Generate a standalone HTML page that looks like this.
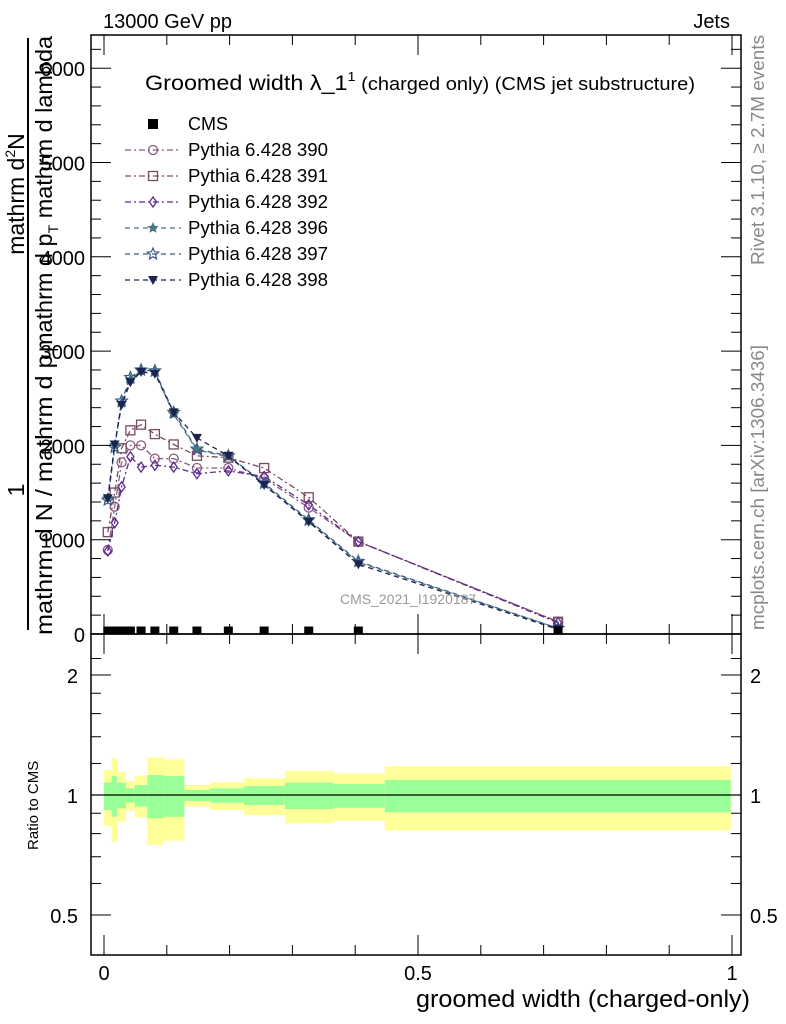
<!DOCTYPE html>
<html><head><meta charset="utf-8"><style>
html,body{margin:0;padding:0;background:#fff}
svg{display:block;font-family:"Liberation Sans",sans-serif}
</style></head><body>
<svg id="chart" width="786" height="1024" viewBox="0 0 786 1024" xmlns="http://www.w3.org/2000/svg">
<g id="bands"></g>
<g id="series"></g>
<g id="axes"></g>
<text x="103" y="28" font-size="20">13000 GeV pp</text>
<text x="730" y="28" font-size="20" text-anchor="end">Jets</text>
<text x="145" y="90" font-size="21" textLength="550" lengthAdjust="spacingAndGlyphs">Groomed width λ_1<tspan font-size="13" dy="-9">1</tspan><tspan font-size="18" dy="9"> (charged only) (CMS jet substructure)</tspan></text>
<text x="340" y="604" font-size="14" fill="#999">CMS_2021_I1920187</text>
<text transform="translate(764,265) rotate(-90)" font-size="18" fill="#888" textLength="230" lengthAdjust="spacingAndGlyphs">Rivet 3.1.10, ≥ 2.7M events</text>
<text transform="translate(764,630) rotate(-90)" font-size="18" fill="#888" textLength="285" lengthAdjust="spacingAndGlyphs">mcplots.cern.ch [arXiv:1306.3436]</text>
<g font-size="23" text-anchor="middle">
<text transform="translate(24,194) rotate(-90)">mathrm d<tspan font-size="14" dy="-9">2</tspan><tspan dy="9">N</tspan></text>
<text transform="translate(52,194) rotate(-90)" textLength="316" lengthAdjust="spacingAndGlyphs">mathrm d p<tspan font-size="14" dy="6">T</tspan><tspan dy="-6"> mathrm d lambda</tspan></text>
<line x1="28" y1="38" x2="28" y2="630" stroke="#000" stroke-width="2"/>
<text transform="translate(24,490) rotate(-90)">1</text>
<text transform="translate(52,490) rotate(-90)" textLength="290" lengthAdjust="spacingAndGlyphs">mathrm d N / mathrm d p<tspan font-size="14" dy="6">T</tspan></text>
</g>
<text transform="translate(38,850) rotate(-90)" font-size="15">Ratio to CMS</text>
<text x="750" y="1007" font-size="24" text-anchor="end" textLength="334" lengthAdjust="spacingAndGlyphs">groomed width (charged-only)</text>
<g id="legend"></g>
</svg>
<script>
const xs = [0.006,0.017,0.028,0.042,0.059,0.081,0.111,0.148,0.198,0.255,0.326,0.405,0.723];
const binEdges = [0,0.012,0.021,0.035,0.049,0.069,0.095,0.128,0.169,0.223,0.288,0.365,0.447,0.998];
const cms = [5,5,5,5,5,5,5,5,5,5,5,5,5];
const s390 = [890,1350,1820,2000,2000,1860,1860,1760,1760,1650,1340,980,130];
const s391 = [1080,1500,1970,2160,2220,2120,2010,1890,1870,1760,1450,980,130];
const s392 = [880,1180,1560,1880,1770,1790,1770,1700,1730,1670,1370,980,120];
const s396 = [1440,2000,2450,2700,2790,2780,2330,1950,1880,1590,1200,760,60];
const s397 = [1420,1980,2470,2720,2800,2790,2350,1960,1890,1600,1210,770,60];
const s398 = [1440,2010,2430,2670,2780,2760,2350,2080,1890,1580,1190,740,50];
const yelHi = [1.155,1.236,1.140,1.084,1.118,1.243,1.229,1.059,1.076,1.101,1.149,1.133,1.182];
const yelLo = [0.836,0.764,0.857,0.913,0.877,0.749,0.768,0.935,0.917,0.891,0.849,0.861,0.814];
const grnHi = [1.076,1.116,1.074,1.039,1.059,1.122,1.116,1.029,1.039,1.053,1.074,1.066,1.090];
const grnLo = [0.917,0.882,0.926,0.956,0.935,0.874,0.882,0.966,0.956,0.944,0.922,0.929,0.905];
const yTicks = [0,1000,2000,3000,4000,5000,6000];
const xTicks = [0,0.5,1];
const xTickLabels = ["0","0.5","1"];
const rTicks = [0.5,1,2];
const rTickLabels = ["0.5","1","2"];
const seriesNames = ["Pythia 6.428 390","Pythia 6.428 391","Pythia 6.428 392","Pythia 6.428 396","Pythia 6.428 397","Pythia 6.428 398"];

const NS="http://www.w3.org/2000/svg";
const L=91,R=741,T=35,M=634,B=955;
const X=v=>104+v*628;
const Y=v=>634-v*0.0943;
const RY=r=>795-120*Math.log2(r);
function mk(tag,attrs,parent){const e=document.createElementNS(NS,tag);for(const k in attrs)e.setAttribute(k,attrs[k]);parent.appendChild(e);return e;}
const bands=document.getElementById('bands'),ser=document.getElementById('series'),ax=document.getElementById('axes'),leg=document.getElementById('legend');

for(let i=0;i<xs.length;i++){
  const x0=X(binEdges[i]),x1=X(binEdges[i+1]);
  const y=mk('rect',{x:x0,y:RY(yelHi[i]),width:x1-x0,height:RY(yelLo[i])-RY(yelHi[i]),fill:'#ffff99'},bands);
  
  
  const g=mk('rect',{x:x0,y:RY(grnHi[i]),width:x1-x0,height:RY(grnLo[i])-RY(grnHi[i]),fill:'#99ff99'},bands);
  
  
}
const one=mk('line',{x1:L,x2:R,y1:RY(1),y2:RY(1),stroke:'#000','stroke-width':1.2},bands);



const styles=[
 {d:s390,c:'#8a5a80',m:'circle',dash:'6,3,2,3'},
 {d:s391,c:'#7a4a60',m:'square',dash:'6,3,2,3'},
 {d:s392,c:'#5a2a90',m:'diamond',dash:'6,3,2,3'},
 {d:s396,c:'#4a7585',m:'starf',dash:'5,4'},
 {d:s397,c:'#3a5a80',m:'star',dash:'5,4'},
 {d:s398,c:'#1a2450',m:'tri',dash:'5,4'}];
function starPts(cx,cy,r){let p=[];for(let k=0;k<10;k++){const a=-Math.PI/2+k*Math.PI/5,rr=k%2?r*0.45:r;p.push((cx+rr*Math.cos(a)).toFixed(1)+','+(cy+rr*Math.sin(a)).toFixed(1));}return p.join(' ');}
function marker(m,cx,cy,c,par){
  let e;
  if(m==='circle')e=mk('circle',{cx,cy,r:4.5,fill:'none',stroke:c,'stroke-width':1.3},par);
  else if(m==='square')e=mk('rect',{x:cx-4.5,y:cy-4.5,width:9,height:9,fill:'none',stroke:c,'stroke-width':1.3},par);
  else if(m==='diamond')e=mk('polygon',{points:`${cx},${cy-5} ${cx+3.5},${cy} ${cx},${cy+5} ${cx-3.5},${cy}`,fill:'none',stroke:c,'stroke-width':1.3},par);
  else if(m==='starf')e=mk('polygon',{points:starPts(cx,cy,6),fill:c},par);
  else if(m==='star')e=mk('polygon',{points:starPts(cx,cy,6),fill:'none',stroke:c,'stroke-width':1.2},par);
  else e=mk('polygon',{points:`${cx-5},${cy-4} ${cx+5},${cy-4} ${cx},${cy+5}`,fill:c},par);
  return e;
}
styles.forEach((s,si)=>{
  const pts=s.d.map((v,i)=>X(xs[i]).toFixed(1)+','+Y(v).toFixed(1)).join(' ');
  const pl=mk('polyline',{points:pts,fill:'none',stroke:s.c,'stroke-width':1.3,'stroke-dasharray':s.dash},ser);
  
  
  s.d.forEach((v,i)=>{
    const mm=marker(s.m,X(xs[i]),Y(v),s.c,ser);
    
    
  });
  const ly=150+si*26;
  const ll=mk('line',{x1:125,x2:181,y1:ly,y2:ly,stroke:s.c,'stroke-width':1.2,'stroke-dasharray':s.dash},leg);
  
  
  const lm=marker(s.m,153,ly,s.c,leg);
  
  
  const lt=mk('text',{x:188,y:ly+6,'font-size':18,textLength:140,lengthAdjust:'spacingAndGlyphs'},leg);lt.textContent=seriesNames[si];
  
  
});
const cm=mk('rect',{x:148,y:119,width:10,height:10,fill:'#000'},leg);


const ct=mk('text',{x:188,y:130,'font-size':18},leg);ct.textContent='CMS';


cms.forEach((v,i)=>{
  const r=mk('rect',{x:X(xs[i])-4.5,y:Y(v)-7,width:9,height:7,fill:'#000'},ser);
  
  
});

[[T,M],[M,B]].forEach(([a,b])=>{
  const f=mk('rect',{x:L,y:a,width:R-L,height:b-a,fill:'none',stroke:'#000','stroke-width':1.5},ax);
  
  
});
for(let v=0;v<=6400;v+=200){const y=Y(v);if(y<T)break;const big=v%1000===0;const len=big?20:10;
  mk('line',{x1:L,x2:L+len,y1:y,y2:y,stroke:'#000'},ax);mk('line',{x1:R-len,x2:R,y1:y,y2:y,stroke:'#000'},ax);}
yTicks.forEach(v=>{const t=mk('text',{x:85,y:Y(v)+8,'font-size':20,'text-anchor':'end'},ax);t.textContent=v;
  
  });
for(let k=0;k<=10;k++){const v=k/10,x=X(v),len=k%5===0?20:10;
  [M,B].forEach(b=>mk('line',{x1:x,x2:x,y1:b,y2:b-len,stroke:'#000'},ax));
  [T,M].forEach(t=>mk('line',{x1:x,x2:x,y1:t,y2:t+len,stroke:'#000'},ax));}
xTicks.forEach((v,i)=>{const t=mk('text',{x:X(v),y:980,'font-size':20,'text-anchor':'middle'},ax);t.textContent=xTickLabels[i];
  
  });
[0.5,0.6,0.7,0.8,0.9,1,1.2,1.4,1.6,1.8,2,2.2].forEach(r=>{const y=RY(r);if(y<M)return;const big=rTicks.includes(r);const len=big?20:10;
  mk('line',{x1:L,x2:L+len,y1:y,y2:y,stroke:'#000'},ax);mk('line',{x1:R-len,x2:R,y1:y,y2:y,stroke:'#000'},ax);});
rTicks.forEach((r,i)=>{
  const t=mk('text',{x:78,y:RY(r)+8,'font-size':20,'text-anchor':'end'},ax);t.textContent=rTickLabels[i];
  
  
  const t2=mk('text',{x:750,y:RY(r)+8,'font-size':20},ax);t2.textContent=rTickLabels[i];
  
  
});
</script>
</body></html>
